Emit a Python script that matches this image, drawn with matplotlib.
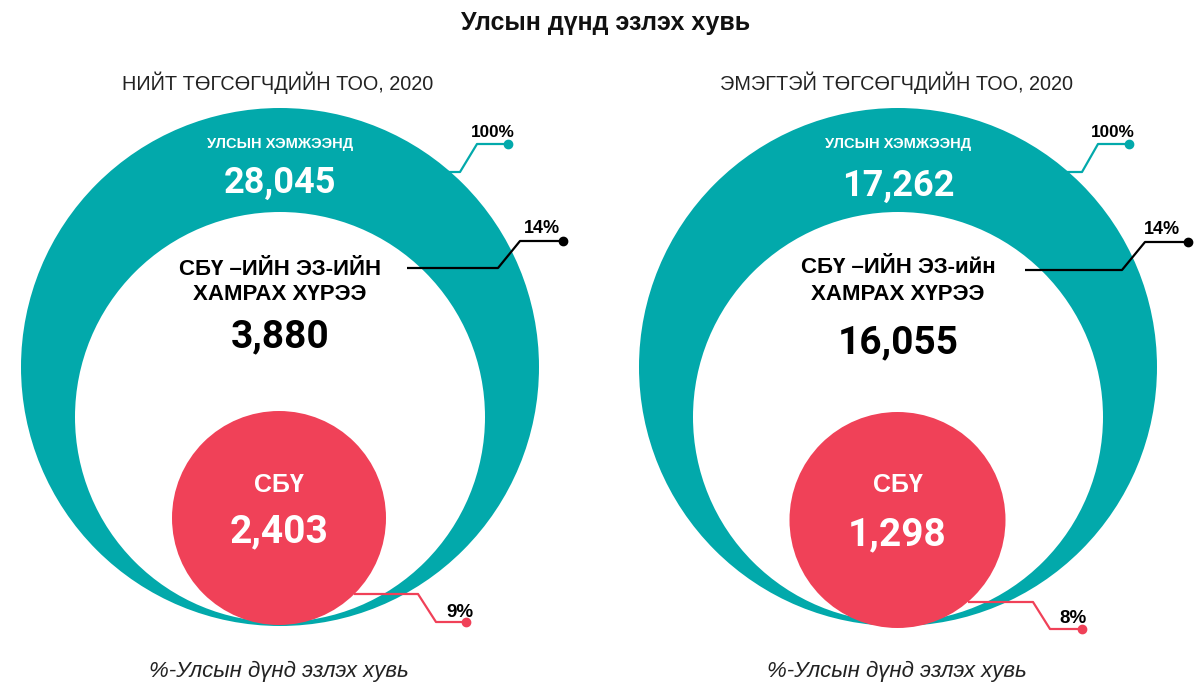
import matplotlib
matplotlib.use("Agg")
import matplotlib.pyplot as plt
from matplotlib.patches import Circle

# ---------------- data ----------------
panel_titles = ["НИЙТ ТӨГСӨГЧДИЙН ТОО, 2020", "ЭМЭГТЭЙ ТӨГСӨГЧДИЙН ТОО, 2020"]
outer_label = "УЛСЫН ХЭМЖЭЭНД"
outer_values = [28045, 17262]
inner_labels = ["СБҮ –ИЙН ЭЗ-ИЙН\nХАМРАХ ХҮРЭЭ", "СБҮ –ИЙН ЭЗ-ийн\nХАМРАХ ХҮРЭЭ"]
inner_values = [3880, 16055]
sbu_label = "СБҮ"
sbu_values = [2403, 1298]
outer_pct = ["100%", "100%"]
inner_pct = ["14%", "14%"]
sbu_pct = ["9%", "8%"]
main_title = "Улсын дүнд эзлэх хувь"
footnote = "%-Улсын дүнд эзлэх хувь"

TEAL = "#02A9AB"
RED = "#F04158"
FONT = "Liberation Sans"
NUMFONT = "Roboto"

W, H = 1198, 687
fig = plt.figure(figsize=(W / 100, H / 100), dpi=100)
ax = fig.add_axes([0, 0, 1, 1])
ax.set_xlim(0, W)
ax.set_ylim(H, 0)
ax.set_aspect("equal")
ax.axis("off")

ax.text(606, 30, main_title, ha="center", va="baseline", fontsize=18,
        fontweight="bold", family=FONT, color="#111111")

# layout per panel
layouts = [
    dict(cx=280, red=(279, 518, 107),
         y_out_num=193, y_in1=275, y_in2=300, y_in_num=347, y_sbu=492, y_sbu_num=542,
         l100=[(447, 172), (460, 172), (477, 144), (508, 144)], t100=(493, 137),
         l14=[(407, 268), (498, 268), (520, 241), (563, 241)], t14=(542, 233),
         lred=[(354, 594), (418, 594), (436, 622), (466, 622)], tred=(460, 617)),
    dict(cx=898, red=(897.5, 520, 108),
         y_out_num=196, y_in1=273, y_in2=300, y_in_num=353, y_sbu=492, y_sbu_num=545,
         l100=[(1067, 172), (1082, 172), (1098, 144), (1129, 144)], t100=(1113, 137),
         l14=[(1025, 270), (1122, 270), (1145, 242), (1188, 242)], t14=(1162, 234),
         lred=[(968, 602), (1033, 602), (1050, 629), (1082, 629)], tred=(1073, 623)),
]

for i, L in enumerate(layouts):
    cx = L["cx"]
    ax.add_patch(Circle((cx, 367), 259, facecolor=TEAL, edgecolor="none", zorder=1))
    ax.add_patch(Circle((cx, 417), 205, facecolor="white", edgecolor="none", zorder=2))
    rx, ry, rr = L["red"]
    ax.add_patch(Circle((rx, ry), rr, facecolor=RED, edgecolor="none", zorder=3))

    ax.text(cx - 2, 90, panel_titles[i], ha="center", va="baseline", fontsize=14.3,
            family=FONT, color="#222222")
    ax.text(cx - 1, 677, footnote, ha="center", va="baseline", fontsize=16,
            family=FONT, style="italic", color="#222222")

    ax.text(cx, 148, outer_label, ha="center", va="baseline", fontsize=10.5,
            fontweight="bold", family=FONT, color="white", zorder=5)
    ax.text(cx, L["y_out_num"], f"{outer_values[i]:,}", ha="center", va="baseline",
            fontsize=26, fontweight="bold", family=NUMFONT, color="white", zorder=5)

    l1, l2 = inner_labels[i].split("\n")
    ax.text(cx, L["y_in1"], l1, ha="center", va="baseline", fontsize=16,
            fontweight="bold", family=FONT, color="black", zorder=5)
    ax.text(cx, L["y_in2"], l2, ha="center", va="baseline", fontsize=16,
            fontweight="bold", family=FONT, color="black", zorder=5)
    ax.text(cx, L["y_in_num"], f"{inner_values[i]:,}", ha="center", va="baseline",
            fontsize=28, fontweight="bold", family=NUMFONT, color="black", zorder=5)

    ax.text(rx, L["y_sbu"], sbu_label, ha="center", va="baseline", fontsize=18,
            fontweight="bold", family=FONT, color="white", zorder=5)
    ax.text(rx, L["y_sbu_num"], f"{sbu_values[i]:,}", ha="center", va="baseline",
            fontsize=28, fontweight="bold", family=NUMFONT, color="white", zorder=5)

    for key, tkey, lab, col, fs in [("l100", "t100", outer_pct[i], TEAL, 12.3),
                                    ("l14", "t14", inner_pct[i], "black", 13),
                                    ("lred", "tred", sbu_pct[i], RED, 13.5)]:
        pts = L[key]
        xs = [p[0] for p in pts]
        ys = [p[1] for p in pts]
        ax.plot(xs, ys, color=col, lw=1.6, zorder=4, solid_capstyle="butt")
        ax.plot(xs[-1], ys[-1], "o", color=col, ms=6, zorder=4)
        tx, ty = L[tkey]
        ax.text(tx, ty, lab, ha="center", va="baseline", fontsize=fs,
                fontweight="bold", family=FONT, color="black", zorder=5)

fig.savefig("out.png", dpi=100)
